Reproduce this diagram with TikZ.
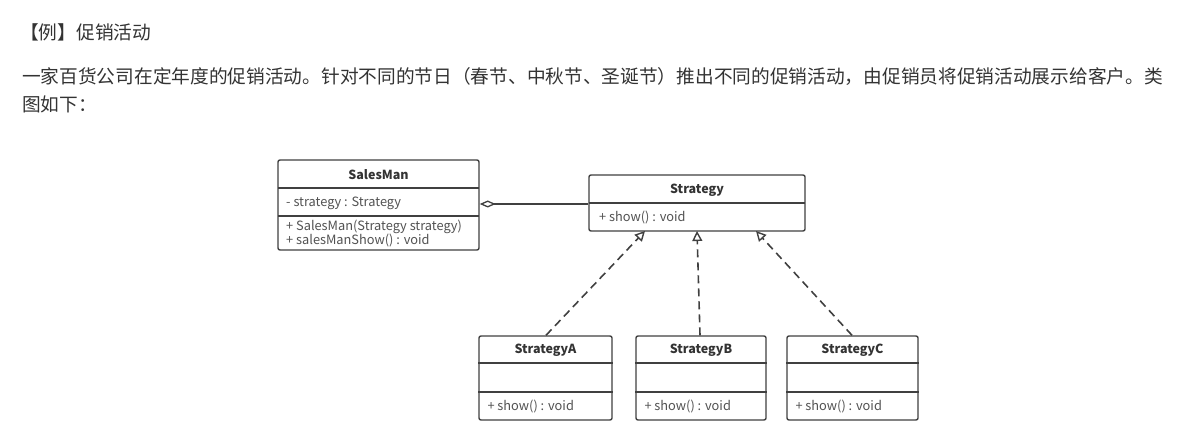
\documentclass[tikz,border=0pt]{standalone}
\usepackage{fontspec}
\setmainfont{Noto Sans CJK SC}
\usetikzlibrary{arrows.meta,positioning,calc}
\definecolor{txtgray}{HTML}{333333}
\definecolor{linegray}{HTML}{404040}
\tikzset{
  classbox/.style={draw=linegray, line width=1.4pt, rounded corners=2pt, fill=white, inner sep=0pt},
  classname/.style={font=\fontsize{12.5}{14}\selectfont\bfseries, text=txtgray, inner sep=0pt},
  member/.style={font=\fontsize{12.8}{14}\selectfont, text=txtgray!85!white, anchor=west, inner sep=0pt},
  cnline/.style={draw=linegray, line width=1.3pt},
  realize/.style={draw=linegray, line width=1.6pt, dash pattern=on 8pt off 5pt, -{Triangle[open, length=10pt, width=10pt, line width=1.4pt]}},
  cntext/.style={font=\fontsize{18.7}{22}\selectfont, text=txtgray, anchor=west, inner sep=0pt}
}
\begin{document}
\begin{tikzpicture}[x=1pt, y=-1pt]
  \useasboundingbox (0,0) rectangle (1191,446);
  % Texte
  \node[cntext] (titel) at (20,32) {【例】促销活动};
  \node[cntext] (zeile1) at (22,76) {一家百货公司在定年度的促销活动。针对不同的节日（春节、中秋节、圣诞节）推出不同的促销活动，由促销员将促销活动展示给客户。类};
  \node[cntext] (zeile2) at (22,104) {图如下：};

  % SalesMan
  \node[classbox, minimum width=201pt, minimum height=90pt] (salesman) at (378.5,205) {};
  \draw[cnline] (278,188) -- (479,188);
  \draw[cnline] (278,216) -- (479,216);
  \node[classname] (salesmanname) at (378.5,175) {SalesMan};
  \node[member] (salesmanattr) at (286,203) {- strategy : Strategy};
  \node[member] (salesmanop1) at (286,227) {+ SalesMan(Strategy strategy)};
  \node[member] (salesmanop2) at (286,241) {+ salesManShow() : void};

  % Strategy
  \node[classbox, minimum width=216pt, minimum height=56pt] (strategy) at (697,203) {};
  \draw[cnline] (589,203) -- (805,203);
  \node[classname] (strategyname) at (697,190) {Strategy};
  \node[member] (strategyop) at (599,218) {+ show() : void};

  % konkrete Strategien
  \foreach \n/\x/\w in {A/545.5/133, B/701/130, C/852.5/131}{
    \node[classbox, minimum width=\w pt, minimum height=84pt] (strategy\n) at (\x,378) {};
    \draw[cnline] ($(strategy\n.west)+(0,-15)$) -- ($(strategy\n.east)+(0,-15)$);
    \draw[cnline] ($(strategy\n.west)+(0,14)$) -- ($(strategy\n.east)+(0,14)$);
    \node[classname] at (\x,350) {Strategy\n};
    \node[member] at ($(strategy\n.west)+(9,29)$) {+ show() : void};
  }

  % Aggregation
  \draw[cnline, {Diamond[open, length=16pt, width=7pt, fill=white]}-] (salesman.east |- 0,204) -- (strategy.west |- 0,204);

  % Realisierung
  \draw[realize] (strategyA.north -| 546,0) -- (645,231);
  \draw[realize] (strategyB.north -| 700,0) -- (697,231);
  \draw[realize] (strategyC.north -| 852,0) -- (756,231);
\end{tikzpicture}
\end{document}
